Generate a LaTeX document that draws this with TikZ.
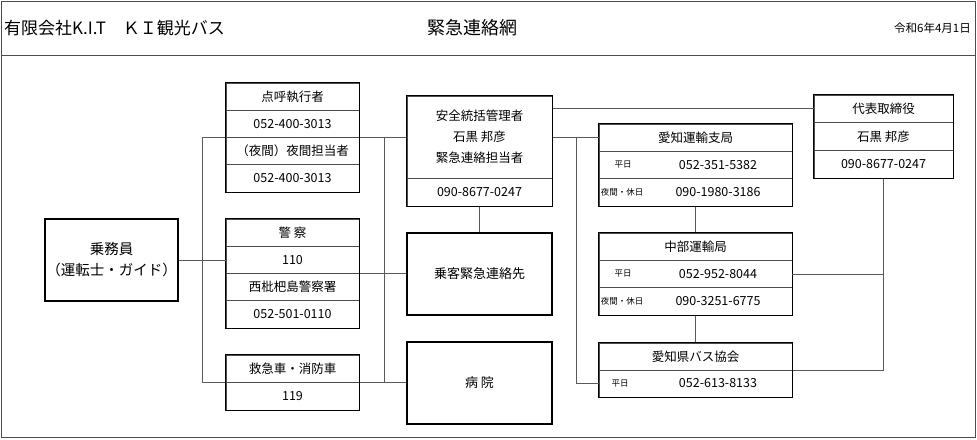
\documentclass[tikz,border=0pt]{standalone}
\usepackage{fontspec}
\setmainfont{Noto Sans CJK JP}
\usetikzlibrary{fit}
\begin{document}
\begin{tikzpicture}[x=1pt,y=-1pt,
  frameline/.style={draw=black!70, line width=0.9pt},
  cell/.style={draw=black!70, line width=0.6pt, inner sep=0pt, align=center, font=\fontsize{12.5}{21}\selectfont},
  outer/.style={draw=black, line width=1.3pt, inner sep=0pt},
  conn/.style={draw=black!65, line width=0.8pt},
  small/.style={font=\fontsize{8.5}{10}\selectfont, inner sep=0pt},
  phone/.style={font=\fontsize{12.5}{14}\selectfont, inner sep=0pt}
]
\useasboundingbox (0,0) rectangle (977,439);
% frame and header
\draw[frameline] (1,1) rectangle (975,437);
\draw[frameline] (1,55) -- (975,55);
\node[anchor=west, inner sep=0pt, font=\fontsize{17}{20}\selectfont] (company) at (4,28) {有限会社K.I.T　ＫＩ観光バス};
\node[inner sep=0pt, font=\fontsize{18}{20}\selectfont] (title) at (472,28) {緊急連絡網};
\node[anchor=east, inner sep=0pt, font=\fontsize{11.5}{13}\selectfont] (date) at (971,28) {令和6年4月1日};

% crew
\node[outer, cell, line width=1.3pt, draw=black, minimum width=133pt, minimum height=82pt, font=\fontsize{14.5}{21}\selectfont] (crew) at (111.5,260) {乗務員\\（運転士・ガイド）};

% A: tenko
\node[cell, minimum width=133pt, minimum height=27.25pt] (A1) at (292.5,96.625) {点呼執行者};
\node[cell, minimum width=133pt, minimum height=27.25pt] (A2) at (292.5,123.875) {052-400-3013};
\node[cell, minimum width=133pt, minimum height=27.25pt] (A3) at (292.5,151.125) {（夜間）夜間担当者};
\node[cell, minimum width=133pt, minimum height=27.25pt] (A4) at (292.5,178.375) {052-400-3013};
\node[outer, fit=(A1)(A4)] (A) {};

% B: police
\node[cell, minimum width=133pt, minimum height=27.25pt] (B1) at (292.5,232.625) {警 察};
\node[cell, minimum width=133pt, minimum height=27.25pt] (B2) at (292.5,259.875) {110};
\node[cell, minimum width=133pt, minimum height=27.25pt] (B3) at (292.5,287.125) {西枇杷島警察署};
\node[cell, minimum width=133pt, minimum height=27.25pt] (B4) at (292.5,314.375) {052-501-0110};
\node[outer, fit=(B1)(B4)] (B) {};

% C: ambulance
\node[cell, minimum width=133pt, minimum height=27.5pt] (C1) at (292.5,368.75) {救急車・消防車};
\node[cell, minimum width=133pt, minimum height=27.5pt] (C2) at (292.5,396.25) {119};
\node[outer, fit=(C1)(C2)] (C) {};

% D: safety manager
\node[cell, minimum width=145pt, minimum height=82pt] (D1) at (479.5,137) {安全統括管理者\\石黒 邦彦\\緊急連絡担当者};
\node[cell, minimum width=145pt, minimum height=28pt] (D2) at (479.5,192) {090-8677-0247};
\node[outer, fit=(D1)(D2)] (D) {};

% E, F
\node[outer, cell, line width=1.3pt, draw=black, minimum width=145pt, minimum height=82pt, font=\fontsize{13}{15}\selectfont] (E) at (479.5,274) {乗客緊急連絡先};
\node[outer, cell, line width=1.3pt, draw=black, minimum width=145pt, minimum height=82pt, font=\fontsize{13}{15}\selectfont] (F) at (479.5,383) {病 院};

% G: Aichi transport branch
\node[cell, minimum width=193pt, minimum height=27.33pt] (G1) at (695.5,137.67) {愛知運輸支局};
\node[cell, minimum width=193pt, minimum height=27.33pt] (G2) at (695.5,165) {};
\node[cell, minimum width=193pt, minimum height=27.33pt] (G3) at (695.5,192.33) {};
\node[outer, fit=(G1)(G3)] (G) {};
\node[small] (G2a) at (623,165) {平日};
\node[phone] (G2b) at (718,165) {052-351-5382};
\node[small] (G3a) at (622,192.33) {夜間・休日};
\node[phone] (G3b) at (718,192.33) {090-1980-3186};

% H: Chubu transport bureau
\node[cell, minimum width=193pt, minimum height=27.33pt] (H1) at (695.5,246.67) {中部運輸局};
\node[cell, minimum width=193pt, minimum height=27.33pt] (H2) at (695.5,274) {};
\node[cell, minimum width=193pt, minimum height=27.33pt] (H3) at (695.5,301.33) {};
\node[outer, fit=(H1)(H3)] (H) {};
\node[small] (H2a) at (623,274) {平日};
\node[phone] (H2b) at (718,274) {052-952-8044};
\node[small] (H3a) at (622,301.33) {夜間・休日};
\node[phone] (H3b) at (718,301.33) {090-3251-6775};

% I: bus association
\node[cell, minimum width=193pt, minimum height=27pt] (I1) at (695.5,356.5) {愛知県バス協会};
\node[cell, minimum width=193pt, minimum height=27pt] (I2) at (695.5,383.5) {};
\node[outer, fit=(I1)(I2)] (I) {};
\node[small] (I2a) at (620,383.5) {平日};
\node[phone] (I2b) at (718,383.5) {052-613-8133};

% J: president
\node[cell, minimum width=139pt, minimum height=27.67pt] (J1) at (883.5,108.83) {代表取締役};
\node[cell, minimum width=139pt, minimum height=27.67pt] (J2) at (883.5,136.5) {石黒 邦彦};
\node[cell, minimum width=139pt, minimum height=27.67pt] (J3) at (883.5,164.17) {090-8677-0247};
\node[outer, fit=(J1)(J3)] (J) {};

% bus coordinates
\coordinate (busL) at (202,0);
\coordinate (busM) at (384,0);
\coordinate (busR) at (576,0);

% connectors
\draw[conn] (crew.east) -- (crew.east -| B2.west);
\draw[conn] (A.west) -- (A.west -| busL) -- (C.west -| busL) -- (C.west);
\draw[conn] (A.east) -- (A.east -| D.west);
\draw[conn] (A.east -| busM) -- (C.east -| busM);
\draw[conn] (B.east) -- (B.east -| E.west);
\draw[conn] (C.east) -- (C.east -| F.west);
\draw[conn] (D.south) -- (E.north);
\draw[conn] (J1.west -| D.east) -- (J1.west);
\draw[conn] (G1.west -| D.east) -- (G1.west);
\draw[conn] (G1.west -| busR) -- (I2.west -| busR) -- (I2.west);
\draw[conn] (G.south) -- (H.north);
\draw[conn] (H.south) -- (I.north);
\draw[conn] (J.south) -- (J.south |- I.east) -- (I.east);
\draw[conn] (H2.east) -- (H2.east -| J.south);
\end{tikzpicture}
\end{document}
